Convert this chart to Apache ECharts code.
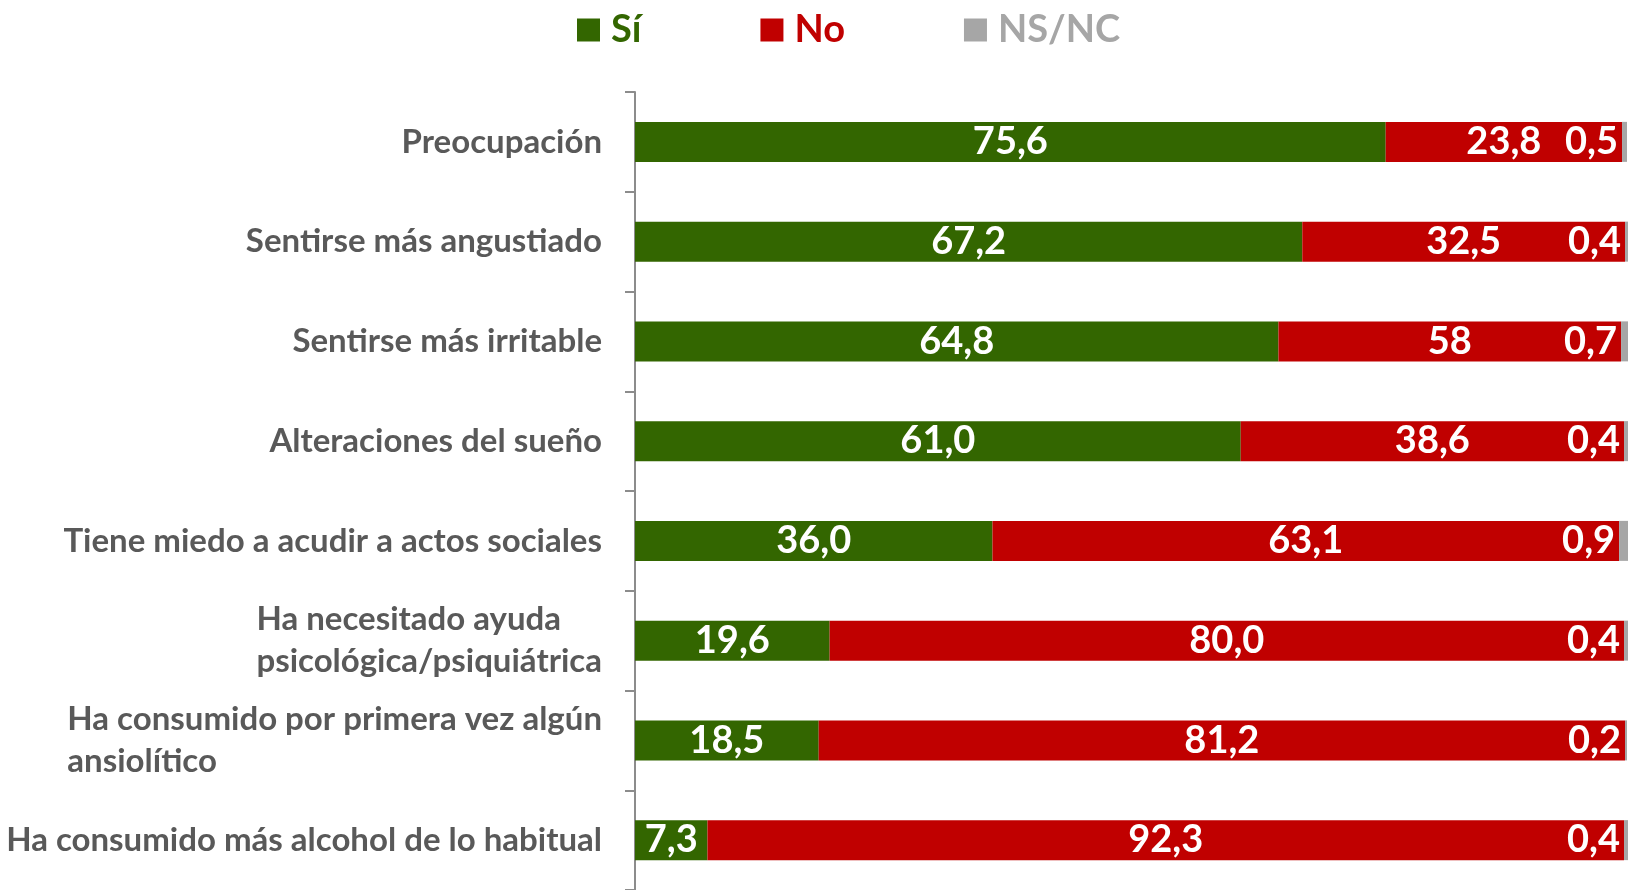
<!DOCTYPE html>
<html>
<head>
<meta charset="utf-8">
<title>Sí / No / NS-NC</title>
<script src="https://cdn.jsdelivr.net/npm/echarts@6/dist/echarts.min.js"></script>
<style>
    html, body { margin: 0; padding: 0; background: #ffffff; }
    #chart { width: 1628px; height: 890px; }
</style>
</head>
<body>
<div id="chart"></div>
<script>
// datos
var categories = [
    "Preocupación",
    "Sentirse más angustiado",
    "Sentirse más irritable",
    "Alteraciones del sueño",
    "Tiene miedo a acudir a actos sociales",
    "Ha necesitado ayuda\npsicológica/psiquiátrica",
    "Ha consumido por primera vez algún\nansiolítico",
    "Ha consumido más alcohol de lo habitual"
];
var siValues = [75.6, 67.2, 64.8, 61.0, 36.0, 19.6, 18.5, 7.3];
// longitud de la barra roja (en irritable la etiqueta original dice 58)
var noValues = [23.8, 32.5, 34.5, 38.6, 63.1, 80.0, 81.2, 92.3];
var noLabels = ["23,8", "32,5", "58", "38,6", "63,1", "80,0", "81,2", "92,3"];
var nsValues = [0.5, 0.4, 0.7, 0.4, 0.9, 0.4, 0.2, 0.4];

var GREEN = "#336600", RED = "#C00000", GREY = "#A6A6A6", TEXT = "#595959";
var FONT = "Lato";

function fmt(v) {
    return v.toFixed(1).replace(".", ",");
}

function catLabel(value) {
    var lines = value.split("\n");
    var out = [];
    for (var i = 0; i < lines.length; i++) {
        out.push("{l|" + lines[i] + "}");
    }
    return out.join("\n");
}

var chart = echarts.init(document.getElementById("chart"), null, { renderer: "canvas" });

var valueLabel = {
    show: true,
    color: "#ffffff",
    fontFamily: FONT,
    fontWeight: "bold",
    fontSize: 38,
    textBorderWidth: 0
};

var option = {
    animation: false,
    backgroundColor: "#ffffff",
    legend: {
        top: 6,
        left: 572,
        itemWidth: 23,
        itemHeight: 23,
        itemGap: 119,
        icon: "rect",
        selectedMode: false,
        textStyle: {
            fontFamily: FONT,
            fontWeight: "bold",
            fontSize: 38,
            lineHeight: 23,
            padding: [0, 0, 0, 6]
        },
        data: [
            { name: "Sí", textStyle: { color: GREEN } },
            { name: "No", textStyle: { color: RED } },
            { name: "NS/NC", textStyle: { color: GREY } }
        ]
    },
    grid: {
        left: 635,
        top: 92,
        width: 993,
        height: 800,
        containLabel: false
    },
    xAxis: {
        type: "value",
        min: 0,
        max: 100,
        show: false
    },
    yAxis: {
        type: "category",
        inverse: true,
        data: categories,
        axisLine: { show: true, lineStyle: { color: "#8C8C8C", width: 2 } },
        axisTick: { show: true, length: 10, lineStyle: { color: "#8C8C8C", width: 2 } },
        splitLine: { show: false },
        axisLabel: {
            margin: 33,
            color: TEXT,
            fontFamily: FONT,
            fontWeight: "bold",
            fontSize: 33,
            formatter: catLabel,
            rich: {
                l: {
                    align: "left",
                    color: TEXT,
                    fontFamily: FONT,
                    fontWeight: "bold",
                    fontSize: 33,
                    lineHeight: 42
                }
            }
        }
    },
    series: [
        {
            name: "Sí",
            type: "bar",
            stack: "total",
            barWidth: 40,
            itemStyle: { color: GREEN },
            label: Object.assign({}, valueLabel, {
                position: "inside",
                formatter: function (p) { return fmt(p.value); }
            }),
            data: siValues
        },
        {
            name: "No",
            type: "bar",
            stack: "total",
            barWidth: 40,
            itemStyle: { color: RED },
            label: Object.assign({}, valueLabel, {
                position: "inside",
                formatter: function (p) { return noLabels[p.dataIndex]; }
            }),
            data: noValues
        },
        {
            name: "NS/NC",
            type: "bar",
            stack: "total",
            barWidth: 40,
            itemStyle: { color: GREY },
            label: Object.assign({}, valueLabel, {
                position: "left",
                distance: 4,
                formatter: function (p) { return fmt(p.value); }
            }),
            data: nsValues
        }
    ]
};

chart.setOption(option);
</script>
</body>
</html>
